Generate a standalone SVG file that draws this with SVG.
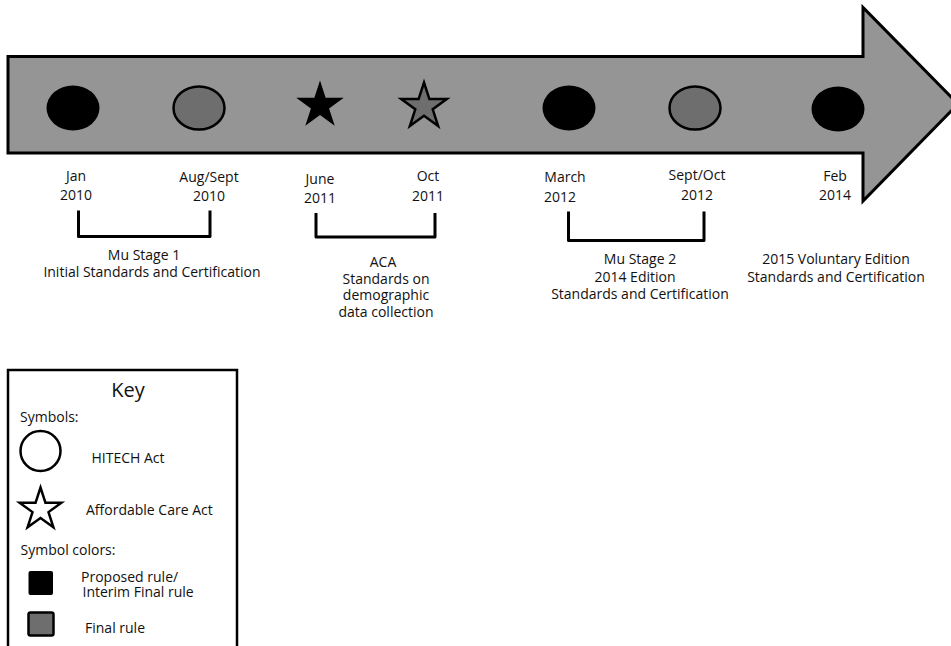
<svg xmlns="http://www.w3.org/2000/svg" width="951" height="646" viewBox="0 0 951 646">
<style>
text{font-family:"Open Sans","Noto Sans","Liberation Sans",sans-serif;font-size:14px;fill:#111;}
.c{text-anchor:middle;}
.blk{fill:#000;stroke:none;}
.gry{fill:#6e6e6e;stroke:#000;stroke-width:2.5;}
.br{fill:none;stroke:#000;stroke-width:3;stroke-linejoin:round;stroke-linecap:butt;}
</style>
<defs>
<path id="star" d="M0,-25 L5.61,-7.73 L23.78,-7.73 L9.08,2.95 L14.69,20.23 L0,9.55 L-14.69,20.23 L-9.08,2.95 L-23.78,-7.73 L-5.61,-7.73 Z"/>
</defs>
<g id="timeline-arrow">
<path d="M8,56.5 H863 V7.5 L958,104 L863,201 V153 H8 Z" fill="#959595" stroke="#000" stroke-width="3" stroke-linejoin="miter"/>
</g>
<g id="n-jan2010"><ellipse class="blk" cx="73" cy="108" rx="26.5" ry="22.5"/><text class="c" x="76" y="181">Jan</text><text class="c" x="76" y="199.5">2010</text></g>
<g id="n-aug2010"><ellipse class="gry" cx="199" cy="108" rx="25.5" ry="21.5"/><text class="c" x="209" y="181.5">Aug/Sept</text><text class="c" x="209" y="200.5">2010</text></g>
<g id="n-jun2011"><use href="#star" transform="translate(320,105.5)" fill="#000"/><text class="c" x="320" y="184">June</text><text class="c" x="320" y="203">2011</text></g>
<g id="n-oct2011"><use href="#star" transform="translate(424,106.5) scale(0.96)" fill="#6e6e6e" stroke="#000" stroke-width="2.6"/><text class="c" x="428" y="181">Oct</text><text class="c" x="428" y="200.5">2011</text></g>
<g id="n-mar2012"><ellipse class="blk" cx="569" cy="108" rx="26.5" ry="22.5"/><text class="c" x="565" y="182">March</text><text class="c" x="560" y="201.5">2012</text></g>
<g id="n-sep2012"><ellipse class="gry" cx="695" cy="108" rx="25.5" ry="21.5"/><text class="c" x="697" y="180">Sept/Oct</text><text class="c" x="697" y="200">2012</text></g>
<g id="n-feb2014"><ellipse class="blk" cx="838" cy="109" rx="26.5" ry="22.5"/><text class="c" x="835" y="181">Feb</text><text class="c" x="835" y="200">2014</text></g>
<g id="connectors">
<path class="br" d="M78.5,210.5 V236.5 H210 V210.5"/>
<path class="br" d="M316,213 V237 H435 V213"/>
<path class="br" d="M568.5,211.5 V240.5 H704 V211.5"/>
</g>
<g id="label-mu1"><text class="c" x="144" y="260">Mu Stage 1</text><text class="c" x="152" y="277">Initial Standards and Certification</text></g>
<g id="label-aca"><text class="c" x="383" y="266.5">ACA</text><text class="c" x="386" y="283.5">Standards on</text><text class="c" x="386" y="300">demographic</text><text class="c" x="386" y="316.5">data collection</text></g>
<g id="label-mu2"><text class="c" x="640" y="264">Mu Stage 2</text><text class="c" x="635" y="281.5">2014 Edition</text><text class="c" x="640" y="299">Standards and Certification</text></g>
<g id="label-2015"><text class="c" x="836" y="264">2015 Voluntary Edition</text><text class="c" x="836" y="281.5">Standards and Certification</text></g>
<g id="key">
<rect x="8" y="370" width="229" height="300" fill="#fff" stroke="#000" stroke-width="2.5"/>
<text class="c" x="128" y="396.5" style="font-size:20px">Key</text>
<text x="20" y="421.5">Symbols:</text>
<circle cx="40.5" cy="451" r="20" fill="#fff" stroke="#000" stroke-width="2.5"/>
<text x="91.5" y="463">HITECH Act</text>
<use href="#star" transform="translate(40.5,509.5) scale(0.88)" fill="#fff" stroke="#000" stroke-width="2.8"/>
<text x="86" y="515">Affordable Care Act</text>
<text x="20.5" y="555">Symbol colors:</text>
<rect x="28.5" y="571" width="24.5" height="24" rx="2" fill="#000"/>
<text x="81" y="581.5">Proposed rule/</text>
<text x="82.5" y="597">Interim Final rule</text>
<rect x="28.5" y="612.5" width="25" height="23" rx="2" class="gry"/>
<text x="85" y="632.5">Final rule</text>
</g>
</svg>
